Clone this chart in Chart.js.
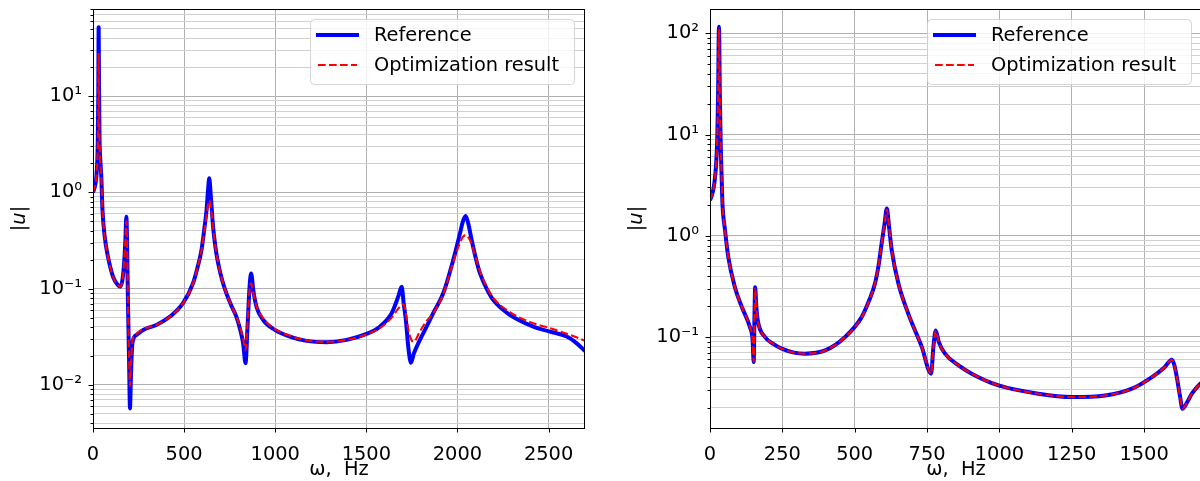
<!DOCTYPE html>
<html>
<head>
<meta charset="utf-8">
<script src="https://cdn.jsdelivr.net/npm/chart.js@4.4.1/dist/chart.umd.min.js"></script>
<style>
	html, body { margin: 0; padding: 0; background: #fff; overflow: hidden; width: 1200px; height: 481px; }
	#left  { position: absolute; left: 0;     top: 0; }
	#right { position: absolute; left: 600px; top: 0; }
</style>
</head>
<body>
<canvas id="left" width="600" height="481"></canvas>
<canvas id="right" width="615" height="481"></canvas>
<script>
// |u| over frequency, first configuration
const freqLeft = [0, 10, 20, 26, 29, 31, 33, 36, 40, 46, 52, 64, 82, 110, 135, 150, 162, 172, 178, 183,
	187, 192, 198, 203, 208, 216, 238, 275, 348, 421, 494, 549, 575, 595, 613, 623, 632, 638, 646, 659,
	672, 687, 710, 732, 760, 787, 810, 824, 837, 848, 860, 868, 880, 897, 934, 998, 1080, 1172, 1282, 1392,
	1501, 1574, 1639, 1675, 1694, 1705, 1717, 1730, 1745, 1760, 1794, 1830, 1867, 1922, 1977, 2014, 2030, 2045, 2060, 2078,
	2100, 2124, 2160, 2197, 2288, 2416, 2508, 2600, 2650, 2700];
const refLeft = [1.0, 1.15, 1.6, 3.2, 10, 52, 12, 3.5, 2.2, 1.4, 0.66, 0.35, 0.215, 0.133, 0.11, 0.105, 0.125, 0.2, 0.33, 0.56,
	0.3, 0.07, 0.018, 0.0057, 0.012, 0.027, 0.033, 0.0373, 0.042, 0.051, 0.0707, 0.114, 0.17, 0.25, 0.45, 0.65, 1.1, 1.40, 0.95, 0.44,
	0.27, 0.183, 0.12, 0.0895, 0.066, 0.051, 0.036, 0.027, 0.0168, 0.04, 0.11, 0.144, 0.095, 0.065, 0.0473, 0.0373, 0.0318, 0.0287, 0.0278, 0.0294,
	0.0339, 0.0403, 0.0556, 0.0826, 0.105, 0.07, 0.0473, 0.025, 0.017, 0.021, 0.0294, 0.04, 0.0556, 0.0895, 0.199, 0.376, 0.5, 0.568, 0.47, 0.32,
	0.21, 0.144, 0.1, 0.076, 0.0533, 0.0403, 0.0358, 0.0318, 0.0275, 0.0225];
const optLeft = [1.0, 1.15, 1.6, 3.0, 8, 28, 9, 3.3, 2.1, 1.4, 0.66, 0.35, 0.215, 0.133, 0.11, 0.105, 0.125, 0.2, 0.32, 0.5,
	0.28, 0.07, 0.02, 0.0098, 0.016, 0.028, 0.034, 0.038, 0.042, 0.051, 0.0707, 0.114, 0.17, 0.25, 0.42, 0.58, 0.76, 0.83, 0.72, 0.43,
	0.27, 0.183, 0.12, 0.0895, 0.066, 0.051, 0.038, 0.03, 0.023, 0.045, 0.1, 0.114, 0.09, 0.066, 0.049, 0.038, 0.0325, 0.029, 0.028, 0.0294,
	0.0335, 0.039, 0.05, 0.062, 0.068, 0.069, 0.055, 0.038, 0.030, 0.028, 0.036, 0.046, 0.0556, 0.088, 0.19, 0.3, 0.345, 0.36, 0.34, 0.29,
	0.21, 0.15, 0.105, 0.08, 0.057, 0.0437, 0.0389, 0.034, 0.0315, 0.0287];

// |u| over frequency, second configuration
const freqRight = [0, 8, 15, 21, 25, 28, 31, 34, 37, 40, 43, 52, 63, 86, 110, 138, 147, 151, 154, 156,
	160, 165, 190, 220, 248, 290, 328, 398, 467, 524, 550, 570, 583, 593, 603, 611, 619, 628, 651, 685,
	732, 764, 772, 780, 790, 812, 860, 904, 997, 1135, 1250, 1365, 1458, 1527, 1570, 1596, 1605, 1613, 1623, 1633,
	1650, 1665, 1694, 1700];
const refRight = [2.24, 2.6, 3.3, 5, 9, 25, 116, 25, 8, 4, 2.1, 1.13, 0.62, 0.31, 0.198, 0.125, 0.095, 0.0565, 0.18, 0.31,
	0.2, 0.146, 0.1, 0.085, 0.0766, 0.07, 0.0684, 0.0736, 0.1, 0.157, 0.23, 0.337, 0.52, 0.837, 1.3, 1.86, 1.2, 0.719, 0.337, 0.17,
	0.0794, 0.0434, 0.08, 0.116, 0.09, 0.0684, 0.052, 0.0434, 0.0332, 0.0275, 0.0255, 0.0264, 0.0308, 0.0401, 0.05, 0.0596, 0.052, 0.0401, 0.027, 0.0195,
	0.023, 0.0275, 0.0345, 0.0355];
const optRight = [2.24, 2.6, 3.3, 5, 9, 25, 112, 25, 8, 4, 2.1, 1.13, 0.62, 0.31, 0.198, 0.125, 0.095, 0.057, 0.18, 0.30,
	0.2, 0.146, 0.1, 0.085, 0.0766, 0.07, 0.0684, 0.0736, 0.1, 0.157, 0.23, 0.337, 0.52, 0.837, 1.3, 1.82, 1.2, 0.719, 0.337, 0.17,
	0.0794, 0.0436, 0.08, 0.115, 0.09, 0.0684, 0.052, 0.0434, 0.0332, 0.0275, 0.0255, 0.0264, 0.0308, 0.0401, 0.05, 0.0594, 0.052, 0.0401, 0.027, 0.0196,
	0.023, 0.0275, 0.0345, 0.0355];

const xTicksLeft  = [0, 500, 1000, 1500, 2000, 2500];
const xTicksRight = [0, 250, 500, 750, 1000, 1250, 1500];

const FONT_FAMILY = 'DejaVu Sans';
const FONT_SIZE   = 19.4;
const SUPERSCRIPT = { '-': '⁻', '0': '⁰', '1': '¹', '2': '²', '3': '³', '4': '⁴', '5': '⁵', '6': '⁶', '7': '⁷', '8': '⁸', '9': '⁹' };

function is_decade(v)
{
	const e = Math.log10(v);
	return Math.abs(e - Math.round(e)) < 1e-6;
}

function decade_label(v)
{
	const exp = String(Math.round(Math.log10(v)));
	return '10' + exp.split('').map(c => SUPERSCRIPT[c]).join('');
}

// 1..9 x 10^e for every decade, kept inside [min, max]
function log_grid(loExp, hiExp, min, max)
{
	const out = [];
	for(let e = loExp; e <= hiExp; ++e) {
		for(let m = 1; m <= 9; ++m) {
			const v = m * Math.pow(10, e);
			if(v >= min && v <= max) out.push(v);
		}
	}
	return out;
}

function to_points(xs, ys) { return xs.map((x, i) => ({ x: x, y: ys[i] })); }

// black box round the plot area plus the outward tick marks
const axesFrame = {
	id: 'axesFrame',
	afterDatasetsDraw(chart) {
		const { ctx, chartArea: a, scales } = chart;
		ctx.save();
		ctx.strokeStyle = '#000';
		ctx.lineWidth = 1;
		ctx.beginPath();
		scales.y.ticks.forEach(t => {
			const y = Math.round(scales.y.getPixelForValue(t.value)) + 0.5;
			const len = is_decade(t.value) ? 4.5 : 2.5;
			ctx.moveTo(a.left - len, y);
			ctx.lineTo(a.left, y);
		});
		scales.x.ticks.forEach(t => {
			const x = Math.round(scales.x.getPixelForValue(t.value)) + 0.5;
			ctx.moveTo(x, a.bottom);
			ctx.lineTo(x, a.bottom + 4.5);
		});
		ctx.stroke();
		ctx.strokeRect(Math.round(a.left) + 0.5, Math.round(a.top) + 0.5, Math.round(a.width) - 1, Math.round(a.height));
		ctx.restore();
	}
};

// legend box in the upper right corner of the plot area
const cornerLegend = {
	id: 'cornerLegend',
	afterDatasetsDraw(chart) {
		const { ctx, chartArea: a } = chart;
		const w = 264, h = 65;
		const x = Math.round(a.right - 11 - w), y = Math.round(a.top + 10);
		ctx.save();
		ctx.beginPath();
		ctx.roundRect(x + 0.5, y + 0.5, w, h, 4);
		ctx.fillStyle = 'rgba(255,255,255,0.8)';
		ctx.fill();
		ctx.strokeStyle = 'rgba(204,204,204,0.8)';
		ctx.lineWidth = 1;
		ctx.stroke();
		chart.data.datasets.forEach((ds, i) => {
			const cy = y + 16 + i * 30;
			ctx.beginPath();
			ctx.setLineDash(ds.borderDash || []);
			ctx.lineCap = ds.borderDash ? 'butt' : 'square';
			ctx.strokeStyle = ds.borderColor;
			ctx.lineWidth = ds.borderWidth;
			ctx.moveTo(x + 8, cy);
			ctx.lineTo(x + 47, cy);
			ctx.stroke();
			ctx.setLineDash([]);
			ctx.fillStyle = '#000';
			ctx.font = FONT_SIZE + 'px "' + FONT_FAMILY + '"';
			ctx.textAlign = 'left';
			ctx.textBaseline = 'middle';
			ctx.fillText(ds.label, x + 64, cy + 1);
		});
		ctx.restore();
	}
};

function chart_create(canvasId, mods)
{
	const font = { family: FONT_FAMILY, size: FONT_SIZE };
	return new Chart(document.getElementById(canvasId), {
		type: 'line',
		data: {
			datasets: [{
				label: 'Reference',
				data: to_points(mods.freq, mods.ref),
				borderColor: '#0000ff',
				borderWidth: 4,
				order: 1
			}, {
				label: 'Optimization result',
				data: to_points(mods.freq, mods.opt),
				borderColor: '#ff0000',
				borderWidth: 2.1,
				borderDash: [7.7, 3.3],
				order: 0
			}]
		},
		options: {
			responsive: false,
			animation: false,
			events: [],
			layout: { padding: { left: 0, top: 9, right: mods.padRight, bottom: 0 } },
			datasets: {
				line: {
					pointRadius: 0,
					fill: false,
					clip: 0,
					borderJoinStyle: 'round',
					cubicInterpolationMode: 'monotone'
				}
			},
			scales: {
				x: {
					type: 'linear',
					min: 0,
					max: mods.xMax,
					afterBuildTicks: s => { s.ticks = mods.xTicks.map(v => ({ value: v })); },
					afterFit: s => { s.height = 53; s.paddingLeft = 0; s.paddingRight = 0; },
					border: { display: false },
					grid: { color: '#b0b0b0', lineWidth: 1, tickLength: 5, tickColor: 'rgba(0,0,0,0)' },
					ticks: { color: '#000', font: font, padding: 10, maxRotation: 0, autoSkip: false, callback: v => String(v) },
					title: { display: true, text: 'ω,  Hz', color: '#000', font: font, padding: { top: 0, bottom: -1 } }
				},
				y: {
					type: 'logarithmic',
					min: mods.yMin,
					max: mods.yMax,
					afterBuildTicks: s => { s.ticks = mods.yTicks.map(v => ({ value: v })); },
					afterFit: s => { s.width = mods.yWidth; s.paddingTop = 0; s.paddingBottom = 0; },
					border: { display: false },
					grid: {
						color: c => (c.tick && is_decade(c.tick.value)) ? '#b0b0b0' : '#d0d0d0',
						lineWidth: 1,
						tickLength: 5,
						tickColor: 'rgba(0,0,0,0)'
					},
					ticks: { color: '#000', font: font, padding: 6, autoSkip: false, callback: v => is_decade(v) ? decade_label(v) : '' },
					title: {
						display: true,
						text: '|u|',
						color: '#000',
						font: { family: FONT_FAMILY, size: FONT_SIZE, style: 'italic' },
						padding: { top: mods.yTitlePad, bottom: 0 }
					}
				}
			},
			plugins: {
				legend: { display: false },
				tooltip: { enabled: false }
			}
		},
		plugins: [axesFrame, cornerLegend]
	});
}

const leftChart = chart_create('left', {
	freq: freqLeft, ref: refLeft, opt: optLeft,
	xMax: 2700, xTicks: xTicksLeft,
	yMin: 0.00357, yMax: 80.4, yTicks: log_grid(-3, 1, 0.00357, 80.4),
	yWidth: 93, yTitlePad: 8.4, padRight: 15
});

const rightChart = chart_create('right', {
	freq: freqRight, ref: refRight, opt: optRight,
	xMax: 1700, xTicks: xTicksRight,
	yMin: 0.0126, yMax: 174, yTicks: log_grid(-2, 2, 0.0126, 174),
	yWidth: 110, yTitlePad: 25.4, padRight: 13
});
</script>
</body>
</html>
